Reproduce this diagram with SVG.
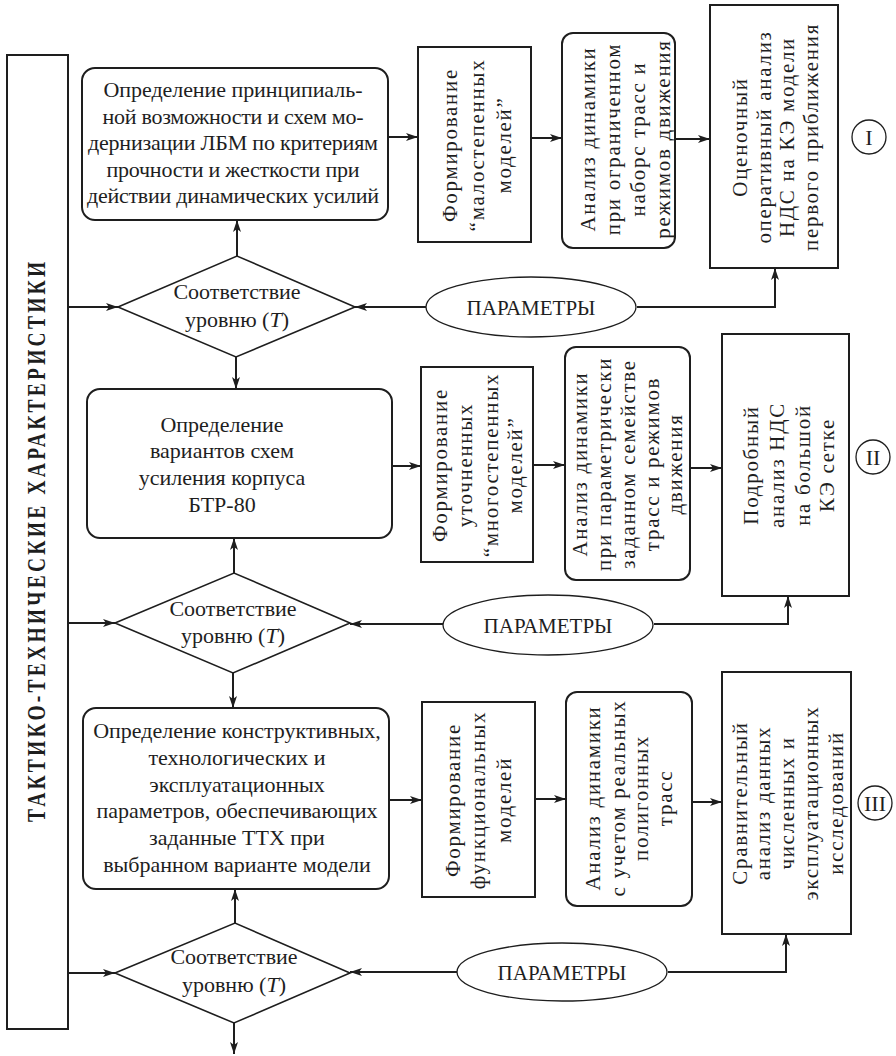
<svg xmlns="http://www.w3.org/2000/svg" width="896" height="1056" viewBox="0 0 896 1056">
<defs>
<marker id="arr" viewBox="0 0 12 8" refX="12" refY="4" markerWidth="12" markerHeight="8" markerUnits="userSpaceOnUse" orient="auto">
<path d="M0,0 L12,4 L0,8 L3,4 z" fill="#1e1e1e"/>
</marker>
<style>
.bx{fill:#fff;stroke:#1e1e1e;stroke-width:2}
.dm{fill:#fff;stroke:#1e1e1e;stroke-width:1.6}
.el{fill:#fff;stroke:#1e1e1e;stroke-width:1.3}
.cn{fill:none;stroke:#1e1e1e;stroke-width:2}
text{font-family:"Liberation Serif","Times New Roman",serif;fill:#1e1e1e}
.h{font-size:22px;text-anchor:middle}
.v{font-size:21px;text-anchor:middle;letter-spacing:1.7px}
.p{font-size:21px;text-anchor:middle}
.r{font-size:22px;text-anchor:middle}
</style>
</defs>
<rect width="896" height="1056" fill="#fff"/>

<g id="ttx">
<rect x="7" y="55" width="61" height="974" class="bx"/>
<text transform="translate(45,542) rotate(-90) scale(0.75,1)" font-size="26" font-weight="bold" text-anchor="middle" textLength="747" lengthAdjust="spacing">ТАКТИКО-ТЕХНИЧЕСКИЕ ХАРАКТЕРИСТИКИ</text>
</g>

<g id="connectors">
<line x1="388" y1="137" x2="418" y2="137" class="cn" marker-end="url(#arr)"/>
<line x1="531" y1="138" x2="562" y2="138" class="cn" marker-end="url(#arr)"/>
<line x1="675" y1="139" x2="710" y2="139" class="cn" marker-end="url(#arr)"/>
<line x1="237" y1="256" x2="237" y2="220" class="cn" marker-end="url(#arr)"/>
<line x1="68" y1="307" x2="118" y2="307" class="cn" marker-end="url(#arr)"/>
<line x1="426" y1="307" x2="355" y2="307" class="cn" marker-end="url(#arr)"/>
<polyline points="637,307 775,307 775,268" class="cn" marker-end="url(#arr)"/>
<line x1="236" y1="357" x2="236" y2="389" class="cn" marker-end="url(#arr)"/>
<line x1="392" y1="466" x2="421" y2="466" class="cn" marker-end="url(#arr)"/>
<line x1="533" y1="465" x2="565" y2="465" class="cn" marker-end="url(#arr)"/>
<line x1="690" y1="468" x2="722" y2="468" class="cn" marker-end="url(#arr)"/>
<line x1="234" y1="573" x2="234" y2="538" class="cn" marker-end="url(#arr)"/>
<line x1="68" y1="623" x2="115" y2="623" class="cn" marker-end="url(#arr)"/>
<line x1="443" y1="624" x2="350" y2="624" class="cn" marker-end="url(#arr)"/>
<polyline points="654,624 788,624 788,596" class="cn" marker-end="url(#arr)"/>
<line x1="233" y1="673" x2="233" y2="708" class="cn" marker-end="url(#arr)"/>
<line x1="389" y1="800" x2="422" y2="800" class="cn" marker-end="url(#arr)"/>
<line x1="535" y1="799" x2="566" y2="799" class="cn" marker-end="url(#arr)"/>
<line x1="692" y1="802" x2="722" y2="802" class="cn" marker-end="url(#arr)"/>
<line x1="235" y1="923" x2="235" y2="889" class="cn" marker-end="url(#arr)"/>
<line x1="68" y1="973" x2="115" y2="973" class="cn" marker-end="url(#arr)"/>
<line x1="457" y1="972" x2="350" y2="972" class="cn" marker-end="url(#arr)"/>
<polyline points="668,972 786,972 786,934" class="cn" marker-end="url(#arr)"/>
<line x1="234" y1="1023" x2="234" y2="1054" class="cn" marker-end="url(#arr)"/>
</g>

<g id="box1">
<rect x="82" y="68" width="306" height="152" rx="13" class="bx"/>
<text class="h" x="233" y="97" textLength="259" lengthAdjust="spacing">Определение  принципиаль-</text>
<text class="h" x="233" y="124" textLength="261" lengthAdjust="spacing">ной возможности и схем мо-</text>
<text class="h" x="233" y="150" textLength="290" lengthAdjust="spacing">дернизации ЛБМ по критериям</text>
<text class="h" x="233" y="177" textLength="253" lengthAdjust="spacing">прочности и жесткости при</text>
<text class="h" x="233" y="203" textLength="292" lengthAdjust="spacing">действии динамических усилий</text>
</g>

<g id="box2">
<rect x="418" y="47" width="113" height="195" class="bx"/>
<text class="v" transform="translate(457,145) rotate(-90)">Формирование</text>
<text class="v" transform="translate(484,145) rotate(-90)">“малостепенных</text>
<text class="v" transform="translate(511,145) rotate(-90)">моделей”</text>
</g>

<g id="box3">
<rect x="562" y="33" width="113" height="215" rx="11" class="bx"/>
<text class="v" transform="translate(595,139) rotate(-90)">Анализ динамики</text>
<text class="v" transform="translate(620,139) rotate(-90)">при ограниченном</text>
<text class="v" transform="translate(645,139) rotate(-90)">наборс трасс и</text>
<text class="v" transform="translate(670,139) rotate(-90)">режимов движения</text>
</g>

<g id="box4">
<rect x="710" y="5" width="128" height="263" class="bx"/>
<text class="v" transform="translate(747,137) rotate(-90)">Оценочный</text>
<text class="v" transform="translate(771,137) rotate(-90)">оперативный анализ</text>
<text class="v" transform="translate(794,137) rotate(-90)">НДС на КЭ модели</text>
<text class="v" transform="translate(818,137) rotate(-90)">первого приближения</text>
</g>

<g id="circle1">
<circle cx="869" cy="137" r="17" class="el"/>
<text class="r" x="869" y="145">I</text>
</g>

<g id="diamond1">
<polygon points="118,307 237,256 355,307 236,357" class="dm"/>
<text class="h" x="237" y="299">Соответствие</text>
<text class="h" x="237" y="327">уровню (<tspan font-style="italic">T</tspan>)</text>
</g>

<g id="param1">
<ellipse cx="531" cy="307" rx="105" ry="30" class="el"/>
<text class="p" x="531" y="315">ПАРАМЕТРЫ</text>
</g>

<g id="box5">
<rect x="87" y="389" width="305" height="149" rx="13" class="bx"/>
<text class="h" x="222" y="432">Определение</text>
<text class="h" x="222" y="458">вариантов схем</text>
<text class="h" x="222" y="485">усиления корпуса</text>
<text class="h" x="222" y="512">БТР-80</text>
</g>

<g id="box6">
<rect x="421" y="367" width="112" height="195" class="bx"/>
<text class="v" transform="translate(447,465) rotate(-90)">Формирование</text>
<text class="v" transform="translate(472,465) rotate(-90)">уточненных</text>
<text class="v" transform="translate(498,465) rotate(-90)">“многостепенных</text>
<text class="v" transform="translate(522,465) rotate(-90)">моделей”</text>
</g>

<g id="box7">
<rect x="565" y="347" width="125" height="233" rx="11" class="bx"/>
<text class="v" transform="translate(587,464) rotate(-90)">Анализ динамики</text>
<text class="v" transform="translate(611,464) rotate(-90)">при параметрически</text>
<text class="v" transform="translate(635,464) rotate(-90)">заданном семействе</text>
<text class="v" transform="translate(659,464) rotate(-90)">трасс и режимов</text>
<text class="v" transform="translate(682,464) rotate(-90)">движения</text>
</g>

<g id="box8">
<rect x="722" y="334" width="127" height="262" class="bx"/>
<text class="v" transform="translate(758,465) rotate(-90)">Подробный</text>
<text class="v" transform="translate(784,465) rotate(-90)">анализ НДС</text>
<text class="v" transform="translate(810,465) rotate(-90)">на большой</text>
<text class="v" transform="translate(834,465) rotate(-90)">КЭ сетке</text>
</g>

<g id="circle2">
<circle cx="873" cy="457" r="17" class="el"/>
<text class="r" x="873" y="465">II</text>
</g>

<g id="diamond2">
<polygon points="115,623 234,573 350,623 233,673" class="dm"/>
<text class="h" x="233" y="616">Соответствие</text>
<text class="h" x="233" y="643">уровню (<tspan font-style="italic">T</tspan>)</text>
</g>

<g id="param2">
<ellipse cx="548" cy="625" rx="105" ry="30" class="el"/>
<text class="p" x="548" y="633">ПАРАМЕТРЫ</text>
</g>

<g id="box9">
<rect x="83" y="708" width="306" height="181" rx="13" class="bx"/>
<text class="h" x="237" y="738">Определение конструктивных,</text>
<text class="h" x="237" y="765">технологических и</text>
<text class="h" x="237" y="792">эксплуатационных</text>
<text class="h" x="237" y="818">параметров, обеспечивающих</text>
<text class="h" x="237" y="845">заданные ТТХ при</text>
<text class="h" x="237" y="872">выбранном варианте модели</text>
</g>

<g id="box10">
<rect x="422" y="702" width="113" height="195" class="bx"/>
<text class="v" transform="translate(460,800) rotate(-90)">Формирование</text>
<text class="v" transform="translate(485,800) rotate(-90)">функциональных</text>
<text class="v" transform="translate(511,800) rotate(-90)">моделей</text>
</g>

<g id="box11">
<rect x="566" y="692" width="126" height="214" rx="11" class="bx"/>
<text class="v" transform="translate(600,798) rotate(-90)">Анализ динамики</text>
<text class="v" transform="translate(625,798) rotate(-90)">с учетом реальных</text>
<text class="v" transform="translate(648,798) rotate(-90)">полигонных</text>
<text class="v" transform="translate(672,798) rotate(-90)">трасс</text>
</g>

<g id="box12">
<rect x="722" y="672" width="129" height="262" class="bx"/>
<text class="v" transform="translate(747,803) rotate(-90)">Сравнительный</text>
<text class="v" transform="translate(770,803) rotate(-90)">анализ данных</text>
<text class="v" transform="translate(794,803) rotate(-90)">численных и</text>
<text class="v" transform="translate(818,803) rotate(-90)">эксплуатационных</text>
<text class="v" transform="translate(843,803) rotate(-90)">исследований</text>
</g>

<g id="circle3">
<circle cx="875" cy="803" r="17" class="el"/>
<text class="r" x="875" y="811">III</text>
</g>

<g id="diamond3">
<polygon points="115,973 235,923 350,973 234,1023" class="dm"/>
<text class="h" x="234" y="964">Соответствие</text>
<text class="h" x="234" y="992">уровню (<tspan font-style="italic">T</tspan>)</text>
</g>

<g id="param3">
<ellipse cx="562" cy="972" rx="105" ry="29" class="el"/>
<text class="p" x="562" y="980">ПАРАМЕТРЫ</text>
</g>
</svg>
